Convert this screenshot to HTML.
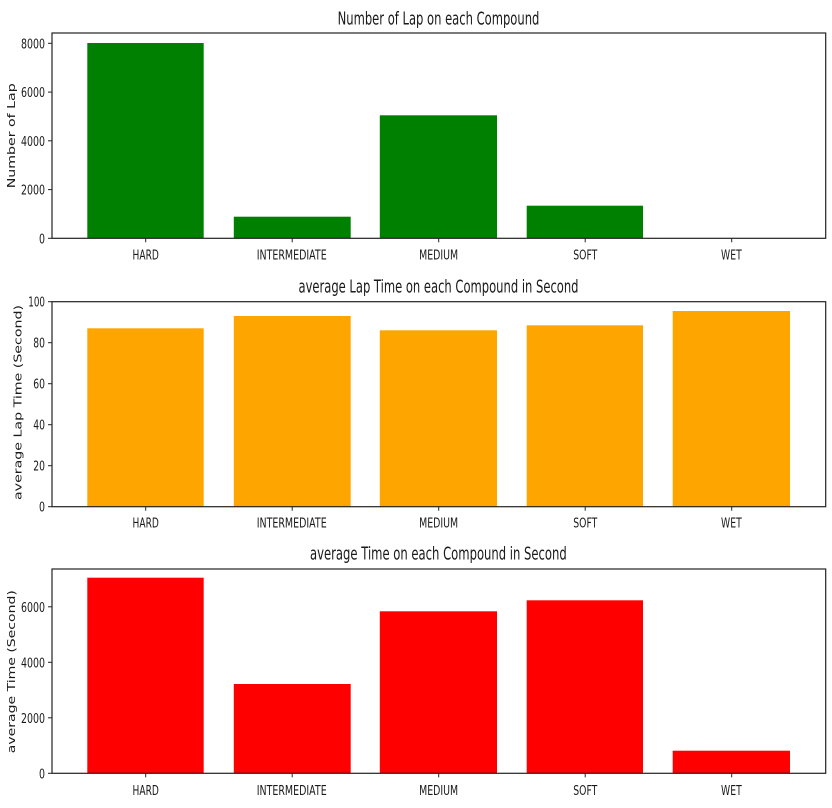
<!DOCTYPE html>
<html><head><meta charset="utf-8"><style>
html,body{margin:0;padding:0;background:#fff;}
svg{display:block;}
text{font-family:"DejaVu Sans","Liberation Sans",sans-serif;fill:#1a1a1a;}
</style></head><body>
<svg width="832" height="808" viewBox="0 0 832 808" xmlns="http://www.w3.org/2000/svg">
<rect width="832" height="808" fill="#fff"/>

<!-- ===== Chart 1 ===== -->
<g>
<rect x="87.3" y="43" width="116.4" height="195.3" fill="#008000"/>
<rect x="233.8" y="216.7" width="116.9" height="21.6" fill="#008000"/>
<rect x="379.8" y="115.3" width="117.2" height="123" fill="#008000"/>
<rect x="526.7" y="205.7" width="116.3" height="32.6" fill="#008000"/>
<rect x="52" y="33" width="773.7" height="205.3" fill="none" stroke="#222" stroke-width="1.2"/>
<text x="438.5" y="24.3" font-size="17.4" text-anchor="middle" textLength="201.7" lengthAdjust="spacingAndGlyphs">Number of Lap on each Compound</text>
<g stroke="#222" stroke-width="1">
<line x1="48" y1="238.3" x2="52" y2="238.3"/><line x1="48" y1="189.6" x2="52" y2="189.6"/><line x1="48" y1="140.8" x2="52" y2="140.8"/><line x1="48" y1="92.1" x2="52" y2="92.1"/><line x1="48" y1="43.3" x2="52" y2="43.3"/>
<line x1="145.7" y1="238.3" x2="145.7" y2="242.3"/><line x1="292.2" y1="238.3" x2="292.2" y2="242.3"/><line x1="438.7" y1="238.3" x2="438.7" y2="242.3"/><line x1="585.2" y1="238.3" x2="585.2" y2="242.3"/><line x1="731.7" y1="238.3" x2="731.7" y2="242.3"/>
</g>
<g font-size="13.7" text-anchor="end">
<text x="45" y="243.3" textLength="6" lengthAdjust="spacingAndGlyphs">0</text>
<text x="45" y="194.6" textLength="24" lengthAdjust="spacingAndGlyphs">2000</text>
<text x="45" y="145.8" textLength="24" lengthAdjust="spacingAndGlyphs">4000</text>
<text x="45" y="97.1" textLength="24" lengthAdjust="spacingAndGlyphs">6000</text>
<text x="45" y="48.3" textLength="24" lengthAdjust="spacingAndGlyphs">8000</text>
</g>
<g font-size="13.7" text-anchor="middle">
<text x="145.7" y="259.6" textLength="26.3" lengthAdjust="spacingAndGlyphs">HARD</text>
<text x="291.7" y="259.6" textLength="70" lengthAdjust="spacingAndGlyphs">INTERMEDIATE</text>
<text x="438.6" y="259.6" textLength="39" lengthAdjust="spacingAndGlyphs">MEDIUM</text>
<text x="585.3" y="259.6" textLength="24" lengthAdjust="spacingAndGlyphs">SOFT</text>
<text x="731.4" y="259.6" textLength="20.7" lengthAdjust="spacingAndGlyphs">WET</text>
</g>
<text transform="translate(15,135.8) scale(0.76,1) rotate(-90)" font-size="13.8" text-anchor="middle" textLength="105" lengthAdjust="spacingAndGlyphs">Number of Lap</text>
</g>

<!-- ===== Chart 2 ===== -->
<g>
<rect x="87.3" y="328.3" width="116.4" height="178.4" fill="#FFA500"/>
<rect x="233.8" y="316" width="116.9" height="190.7" fill="#FFA500"/>
<rect x="379.8" y="330.3" width="117.2" height="176.4" fill="#FFA500"/>
<rect x="526.7" y="325.3" width="116.3" height="181.4" fill="#FFA500"/>
<rect x="672.7" y="311" width="117.3" height="195.7" fill="#FFA500"/>
<rect x="52" y="301.7" width="773.7" height="205" fill="none" stroke="#222" stroke-width="1.2"/>
<text x="438.5" y="292.7" font-size="17.4" text-anchor="middle" textLength="280" lengthAdjust="spacingAndGlyphs">average Lap Time on each Compound in Second</text>
<g stroke="#222" stroke-width="1">
<line x1="48" y1="506.7" x2="52" y2="506.7"/><line x1="48" y1="465.7" x2="52" y2="465.7"/><line x1="48" y1="424.7" x2="52" y2="424.7"/><line x1="48" y1="383.7" x2="52" y2="383.7"/><line x1="48" y1="342.7" x2="52" y2="342.7"/><line x1="48" y1="301.7" x2="52" y2="301.7"/>
<line x1="145.7" y1="506.7" x2="145.7" y2="510.7"/><line x1="292.2" y1="506.7" x2="292.2" y2="510.7"/><line x1="438.7" y1="506.7" x2="438.7" y2="510.7"/><line x1="585.2" y1="506.7" x2="585.2" y2="510.7"/><line x1="731.7" y1="506.7" x2="731.7" y2="510.7"/>
</g>
<g font-size="13.7" text-anchor="end">
<text x="45" y="511.7" textLength="6" lengthAdjust="spacingAndGlyphs">0</text>
<text x="45" y="470.7" textLength="11.7" lengthAdjust="spacingAndGlyphs">20</text>
<text x="45" y="429.7" textLength="11.7" lengthAdjust="spacingAndGlyphs">40</text>
<text x="45" y="388.7" textLength="11.7" lengthAdjust="spacingAndGlyphs">60</text>
<text x="45" y="347.7" textLength="11.7" lengthAdjust="spacingAndGlyphs">80</text>
<text x="45" y="306.7" textLength="16.7" lengthAdjust="spacingAndGlyphs">100</text>
</g>
<g font-size="13.7" text-anchor="middle">
<text x="145.7" y="527.3" textLength="26.3" lengthAdjust="spacingAndGlyphs">HARD</text>
<text x="291.7" y="527.3" textLength="70" lengthAdjust="spacingAndGlyphs">INTERMEDIATE</text>
<text x="438.6" y="527.3" textLength="39" lengthAdjust="spacingAndGlyphs">MEDIUM</text>
<text x="585.3" y="527.3" textLength="24" lengthAdjust="spacingAndGlyphs">SOFT</text>
<text x="731.4" y="527.3" textLength="20.7" lengthAdjust="spacingAndGlyphs">WET</text>
</g>
<text transform="translate(21.5,402.5) scale(0.76,1) rotate(-90)" font-size="13.8" text-anchor="middle" textLength="195" lengthAdjust="spacingAndGlyphs">average Lap Time (Second)</text>
</g>

<!-- ===== Chart 3 ===== -->
<g>
<rect x="87.3" y="577.7" width="116.4" height="195.6" fill="#FF0000"/>
<rect x="233.8" y="684" width="116.9" height="89.3" fill="#FF0000"/>
<rect x="379.8" y="611.3" width="117.2" height="162" fill="#FF0000"/>
<rect x="526.7" y="600.3" width="116.3" height="173" fill="#FF0000"/>
<rect x="672.7" y="750.7" width="117.3" height="22.6" fill="#FF0000"/>
<rect x="52" y="569" width="773.7" height="204.3" fill="none" stroke="#222" stroke-width="1.2"/>
<text x="438.4" y="559.3" font-size="17.4" text-anchor="middle" textLength="256.7" lengthAdjust="spacingAndGlyphs">average Time on each Compound in Second</text>
<g stroke="#222" stroke-width="1">
<line x1="48" y1="773.3" x2="52" y2="773.3"/><line x1="48" y1="717.8" x2="52" y2="717.8"/><line x1="48" y1="662.3" x2="52" y2="662.3"/><line x1="48" y1="606.8" x2="52" y2="606.8"/>
<line x1="145.7" y1="773.3" x2="145.7" y2="777.3"/><line x1="292.2" y1="773.3" x2="292.2" y2="777.3"/><line x1="438.7" y1="773.3" x2="438.7" y2="777.3"/><line x1="585.2" y1="773.3" x2="585.2" y2="777.3"/><line x1="731.7" y1="773.3" x2="731.7" y2="777.3"/>
</g>
<g font-size="13.7" text-anchor="end">
<text x="45" y="778.3" textLength="6" lengthAdjust="spacingAndGlyphs">0</text>
<text x="45" y="722.8" textLength="24" lengthAdjust="spacingAndGlyphs">2000</text>
<text x="45" y="667.3" textLength="24" lengthAdjust="spacingAndGlyphs">4000</text>
<text x="45" y="611.8" textLength="24" lengthAdjust="spacingAndGlyphs">6000</text>
</g>
<g font-size="13.7" text-anchor="middle">
<text x="145.7" y="795" textLength="26.3" lengthAdjust="spacingAndGlyphs">HARD</text>
<text x="291.7" y="795" textLength="70" lengthAdjust="spacingAndGlyphs">INTERMEDIATE</text>
<text x="438.6" y="795" textLength="39" lengthAdjust="spacingAndGlyphs">MEDIUM</text>
<text x="585.3" y="795" textLength="24" lengthAdjust="spacingAndGlyphs">SOFT</text>
<text x="731.4" y="795" textLength="20.7" lengthAdjust="spacingAndGlyphs">WET</text>
</g>
<text transform="translate(15,671.7) scale(0.76,1) rotate(-90)" font-size="13.8" text-anchor="middle" textLength="163" lengthAdjust="spacingAndGlyphs">average Time (Second)</text>
</g>
</svg>
</body></html>
